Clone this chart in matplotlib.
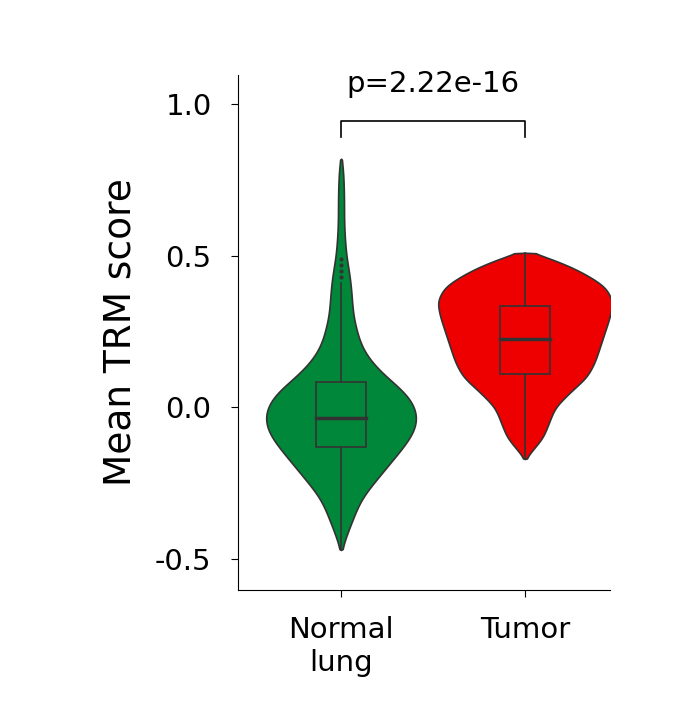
import matplotlib
matplotlib.use("Agg")
import matplotlib.pyplot as plt
import numpy as np

categories = ["Normal\nlung", "Tumor"]
colors = ["#00873a", "#ee0000"]
# violin density profiles: y values and relative half-widths
normal_y = [-0.47, -0.40, -0.30, -0.20, -0.10, -0.05, 0.0, 0.05, 0.10, 0.15, 0.20, 0.30, 0.40, 0.45, 0.50, 0.60, 0.70, 0.80, 0.82]
normal_w = [0, 8, 20, 45, 70, 77, 75, 65, 45, 30, 20, 12, 10, 8, 5, 3, 3, 2, 0]
tumor_y = [-0.17, -0.10, 0.0, 0.05, 0.10, 0.15, 0.20, 0.25, 0.30, 0.35, 0.40, 0.45, 0.50, 0.51]
tumor_w = [0, 18, 30, 45, 62, 70, 75, 80, 85, 88, 80, 55, 20, 0]
# box stats: whisker low, q1, median, q3, whisker high
normal_box = [-0.47, -0.13, -0.035, 0.085, 0.41]
tumor_box = [-0.17, 0.11, 0.225, 0.335, 0.51]
normal_outliers = [0.43, 0.45, 0.47, 0.49]
p_label = "p=2.22e-16"

fig = plt.figure(figsize=(6.93, 7.05), dpi=100)
ax = fig.add_axes([238/693, 1-590/705, 372/693, 515/705])
scale = 1/184
edge = "#333333"
for i, (ys, ws, box, c) in enumerate([(normal_y, normal_w, normal_box, colors[0]),
                                        (tumor_y, tumor_w, tumor_box, colors[1])]):
    yy = np.linspace(min(ys), max(ys), 400)
    ww = np.interp(yy, ys, ws)
    k = np.exp(-0.5 * (np.arange(-30, 31) / 10) ** 2)
    k /= k.sum()
    pad = np.pad(ww, 30, mode="edge")
    ws_s = np.convolve(pad, k, mode="same")[30:-30]
    ws_s[0] = ws_s[-1] = 0
    ww = np.maximum(ws_s, 0) * scale
    ax.fill_betweenx(yy, i - ww, i + ww, color=c, edgecolor=edge, linewidth=1.2, zorder=1)
    bw = 25 * scale
    ax.plot([i, i], [box[0], box[1]], color=edge, lw=1.2, zorder=2)
    ax.plot([i, i], [box[3], box[4]], color=edge, lw=1.2, zorder=2)
    ax.add_patch(plt.Rectangle((i - bw, box[1]), 2 * bw, box[3] - box[1], facecolor="none",
                               edgecolor=edge, lw=1.2, zorder=3))
    ax.plot([i - bw, i + bw], [box[2], box[2]], color=edge, lw=2.5, zorder=4)
ax.scatter([0] * len(normal_outliers), normal_outliers, s=4, color=edge, zorder=3)

ax.plot([0, 0, 1, 1], [0.89, 0.945, 0.945, 0.89], color="black", lw=1.2)
ax.text(0.5, 1.02, p_label, ha="center", va="bottom", fontsize=21)

ax.set_xlim(-0.56, 1.462)
ax.set_ylim(-0.602, 1.096)
ax.set_xticks([0, 1])
ax.set_xticklabels(categories, fontsize=21)
ax.set_yticks([-0.5, 0.0, 0.5, 1.0])
ax.set_yticklabels(["-0.5", "0.0", "0.5", "1.0"], fontsize=21)
ax.set_ylabel("Mean TRM score", fontsize=27, labelpad=12)
ax.spines["top"].set_visible(False)
ax.spines["right"].set_visible(False)
ax.tick_params(length=5, pad=14)
fig.savefig("out.png", dpi=100)
